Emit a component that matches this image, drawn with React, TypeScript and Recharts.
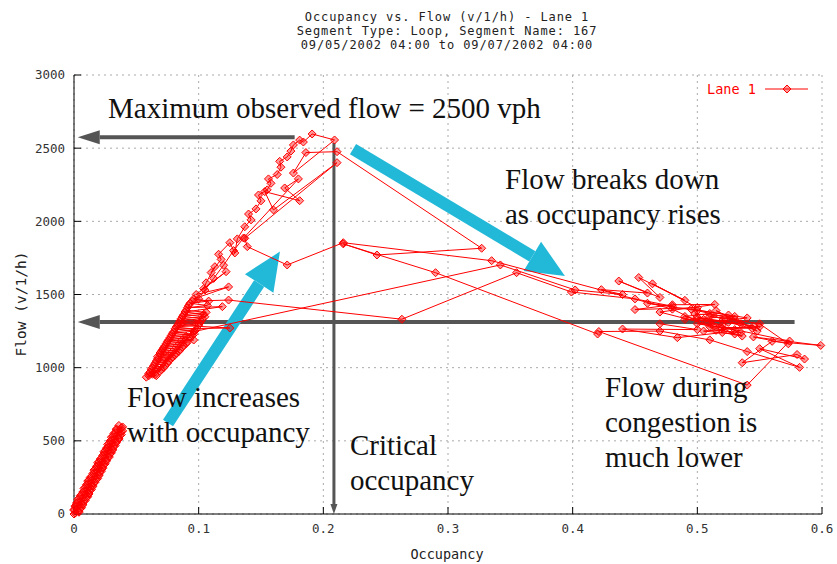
import { CartesianGrid, ComposedChart, ReferenceLine, Scatter, XAxis, YAxis } from "recharts";

const TITLE = [
  "Occupancy vs. Flow (v/1/h) - Lane 1",
  "Segment Type: Loop, Segment Name: 167",
  "09/05/2002 04:00 to 09/07/2002 04:00",
];
const X_TICKS = [0, 0.1, 0.2, 0.3, 0.4, 0.5, 0.6];
const Y_TICKS = [0, 500, 1000, 1500, 2000, 2500, 3000];

// [occupancy, flow] pairs in time order
const nightBand = [
  [0.0, 0], [0.004, 12], [0.0, 25], [0.005, 37], [0.001, 50], [0.007, 62], [0.002, 75],
  [0.008, 87], [0.003, 100], [0.01, 112], [0.005, 125], [0.012, 137], [0.007, 150],
  [0.013, 162], [0.008, 175], [0.015, 187], [0.01, 200], [0.016, 212], [0.011, 225],
  [0.018, 237], [0.013, 250], [0.02, 262], [0.015, 275], [0.021, 287], [0.016, 300],
  [0.023, 312], [0.018, 325], [0.024, 337], [0.019, 350], [0.026, 362], [0.021, 375],
  [0.028, 387], [0.023, 400], [0.029, 412], [0.024, 425], [0.031, 437], [0.026, 450],
  [0.032, 462], [0.027, 475], [0.034, 487], [0.029, 500], [0.036, 512], [0.03, 525],
  [0.037, 537], [0.032, 550], [0.038, 562], [0.034, 575], [0.038, 590], [0.036, 605],
];

const nightReturn = [
  [0.039, 595], [0.034, 581], [0.039, 568], [0.033, 556], [0.038, 543], [0.031, 531],
  [0.036, 518], [0.03, 506], [0.034, 493], [0.028, 481], [0.033, 468], [0.027, 456],
  [0.031, 443], [0.025, 431], [0.03, 418], [0.024, 406], [0.028, 393], [0.022, 381],
  [0.026, 368], [0.02, 356], [0.025, 343], [0.019, 331], [0.023, 318], [0.017, 306],
  [0.022, 293], [0.016, 281], [0.02, 268], [0.014, 256], [0.019, 243], [0.012, 231],
  [0.017, 218], [0.011, 206], [0.015, 193], [0.009, 181], [0.014, 168], [0.008, 156],
  [0.012, 143], [0.006, 131], [0.011, 118], [0.004, 106], [0.009, 93], [0.003, 81],
  [0.007, 68], [0.001, 56], [0.006, 43], [0.0, 31], [0.004, 18], [0.001, 6],
];

const dayOneRise = [
  [0.058, 935], [0.066, 945], [0.06, 960], [0.069, 975], [0.062, 990], [0.072, 1000],
  [0.064, 1015], [0.075, 1030], [0.066, 1045], [0.078, 1060], [0.067, 1075], [0.081, 1085],
  [0.069, 1100], [0.084, 1110], [0.071, 1125], [0.087, 1140], [0.073, 1150], [0.09, 1165],
  [0.075, 1180], [0.096, 1189], [0.077, 1205], [0.095, 1220], [0.079, 1235], [0.097, 1250],
  [0.081, 1265], [0.125, 1271], [0.083, 1290], [0.101, 1305], [0.085, 1320], [0.103, 1335],
  [0.087, 1350], [0.104, 1365], [0.089, 1380], [0.119, 1417], [0.091, 1410], [0.107, 1425],
  [0.093, 1440], [0.108, 1455], [0.096, 1470], [0.124, 1552], [0.098, 1500], [0.122, 1656],
  [0.104, 1540], [0.106, 1580], [0.113, 1690], [0.11, 1650], [0.118, 1740], [0.116, 1775],
  [0.125, 1854], [0.129, 1784], [0.131, 1880], [0.137, 1963], [0.142, 2010], [0.14, 2050],
  [0.146, 2085], [0.15, 2140], [0.148, 2180], [0.155, 2215], [0.158, 2260], [0.156, 2290],
  [0.163, 2320], [0.166, 2370], [0.165, 2410], [0.171, 2440], [0.174, 2480], [0.176, 2522],
  [0.181, 2555], [0.184, 2542], [0.191, 2597], [0.209, 2556], [0.176, 2330], [0.186, 2470],
  [0.211, 2476], [0.327, 1816], [0.243, 1770], [0.216, 1846], [0.29, 1649], [0.42, 1230],
];

const dayOneJam = [
  [0.47, 1300], [0.5, 1260], [0.44, 1264], [0.484, 1205], [0.52, 1240], [0.536, 1216],
  [0.51, 1280], [0.544, 1268], [0.52, 1320], [0.49, 1330], [0.53, 1350], [0.498, 1367],
  [0.505, 1330], [0.535, 1300], [0.515, 1390], [0.548, 1250], [0.525, 1360], [0.495, 1400],
  [0.54, 1340], [0.51, 1310], [0.53, 1230], [0.505, 1250], [0.55, 1280], [0.52, 1270],
  [0.47, 1380], [0.514, 1432], [0.48, 1430], [0.45, 1397], [0.5, 1410], [0.464, 1573],
  [0.49, 1460], [0.453, 1616], [0.47, 1480], [0.437, 1592], [0.46, 1510], [0.423, 1533],
  [0.44, 1500], [0.402, 1531], [0.342, 1702], [0.096, 1246], [0.09, 1215], [0.086, 1185],
  [0.083, 1150], [0.079, 1110], [0.075, 1075], [0.071, 1030], [0.067, 990], [0.063, 955],
];

const dayTwo = [
  [0.06, 945], [0.065, 952], [0.061, 970], [0.07, 985], [0.063, 1000], [0.073, 1012],
  [0.065, 1030], [0.076, 1045], [0.067, 1060], [0.079, 1072], [0.069, 1088], [0.082, 1098],
  [0.07, 1112], [0.085, 1122], [0.072, 1138], [0.088, 1150], [0.074, 1165], [0.091, 1175],
  [0.076, 1190], [0.093, 1205], [0.078, 1220], [0.096, 1228], [0.08, 1245], [0.098, 1262],
  [0.082, 1278], [0.1, 1290], [0.084, 1305], [0.102, 1318], [0.086, 1335], [0.105, 1348],
  [0.088, 1362], [0.106, 1378], [0.09, 1392], [0.092, 1425], [0.095, 1455], [0.124, 1462],
  [0.263, 1331], [0.355, 1649], [0.399, 1517], [0.45, 1470], [0.48, 1420], [0.46, 1440],
  [0.5, 1390], [0.53, 1330], [0.51, 1350], [0.55, 1300], [0.573, 1163], [0.545, 1210],
  [0.599, 1152], [0.56, 1180], [0.536, 1034], [0.58, 1090], [0.586, 1059], [0.55, 1130],
  [0.582, 1002], [0.54, 1110], [0.51, 1190], [0.47, 1250], [0.421, 1247], [0.54, 881],
  [0.574, 1182], [0.53, 1260], [0.5, 1300], [0.52, 1290], [0.49, 1350], [0.51, 1370],
  [0.525, 1310], [0.545, 1285], [0.5, 1345], [0.535, 1240], [0.515, 1255], [0.48, 1400],
  [0.335, 1731], [0.216, 1854], [0.171, 1702], [0.139, 1827], [0.137, 1884], [0.211, 2401],
  [0.16, 2078], [0.153, 2203], [0.181, 2141], [0.169, 2228], [0.18, 2290], [0.136, 1886],
  [0.128, 1800], [0.12, 1700], [0.112, 1610], [0.105, 1530], [0.1, 1470],
];

// annotation arrows, [from, to] in data units
const maxFlowArrow = [[0.177, 2575], [0.003, 2575]];
const jamFlowArrow = [[0.578, 1312], [0.003, 1312]];
const criticalArrow = [[0.2085, 2535], [0.2085, 0]];
const riseArrow = [[0.0754, 622], [0.1652, 1793]];
const dropArrow = [[0.2238, 2494], [0.3938, 1627]];

const toPoints = (rows: number[][]) => rows.map(([occ, flow]) => ({ occ, flow }));
const seg = (a: number[][]) => [{ x: a[0][0], y: a[0][1] }, { x: a[1][0], y: a[1][1] }];

const RED = "#ff0000";
const GRAY = "#555555";
const CYAN = "#22b8d8";
const MONO = "'DejaVu Sans Mono', monospace";
const SERIF = "'Liberation Serif', 'Times New Roman', serif";

function arrow(color: string, width: number, headLen: number, headWidth: number) {
  return (p: any) => {
    const { x1, y1, x2, y2 } = p;
    const len = Math.hypot(x2 - x1, y2 - y1) || 1;
    const ux = (x2 - x1) / len;
    const uy = (y2 - y1) / len;
    const bx = x2 - ux * headLen;
    const by = y2 - uy * headLen;
    const nx = -uy * headWidth / 2;
    const ny = ux * headWidth / 2;
    return (
      <g>
        <line x1={x1} y1={y1} x2={bx} y2={by} stroke={color} strokeWidth={width} />
        <polygon points={`${x2},${y2} ${bx + nx},${by + ny} ${bx - nx},${by - ny}`} fill={color} />
      </g>
    );
  };
}

function Diamond(p: any) {
  const { cx, cy } = p;
  const r = 4;
  return (
    <polygon
      points={`${cx},${cy - r} ${cx + r},${cy} ${cx},${cy + r} ${cx - r},${cy}`}
      fill="rgba(255,0,0,0.4)"
      stroke={RED}
      strokeWidth={1}
    />
  );
}

const series = [nightBand, nightReturn, dayOneRise, dayOneJam, dayTwo];

export default function App() {
  return (
    <div style={{ position: "absolute", left: 0, top: 0, width: 837, height: 564, background: "#fff" }}>
      <ComposedChart width={837} height={564} margin={{ top: 75, right: 15, bottom: 20, left: 14 }}>
        <CartesianGrid stroke="#aaa" strokeDasharray="2 4" />
        <XAxis
          dataKey="occ" type="number" domain={[0, 0.6]} ticks={X_TICKS} height={30}
          tickSize={-7} tickMargin={17} stroke="#000"
          tick={{ fontSize: 12.5, fontFamily: MONO, fill: "#333" }}
        />
        <XAxis
          xAxisId="top" orientation="top" type="number" domain={[0, 0.6]} ticks={X_TICKS}
          height={0} tickSize={-7} tickFormatter={() => ""} stroke="#000"
        />
        <YAxis
          dataKey="flow" type="number" domain={[0, 3000]} ticks={Y_TICKS} width={60}
          tickSize={-7} tickMargin={16} stroke="#000"
          tick={{ fontSize: 12.5, fontFamily: MONO, fill: "#333" }}
        />
        <YAxis
          yAxisId="right" orientation="right" type="number" domain={[0, 3000]} ticks={Y_TICKS}
          width={0} tickSize={-7} tickFormatter={() => ""} stroke="#000"
        />
        {series.map((s, i) => (
          <Scatter
            key={i}
            data={toPoints(s)}
            line={{ stroke: RED, strokeWidth: 1 }}
            lineType="joint"
            shape={Diamond}
            isAnimationActive={false}
          />
        ))}
        <ReferenceLine segment={seg(maxFlowArrow)} shape={arrow(GRAY, 4, 22, 14)} />
        <ReferenceLine segment={seg(jamFlowArrow)} shape={arrow(GRAY, 4, 22, 14)} />
        <ReferenceLine segment={seg(criticalArrow)} shape={arrow(GRAY, 3, 10, 7)} />
        <ReferenceLine segment={seg(riseArrow)} shape={arrow(CYAN, 12, 38, 34)} />
        <ReferenceLine segment={seg(dropArrow)} shape={arrow(CYAN, 12, 38, 34)} />
      </ComposedChart>

      <svg width={837} height={564} style={{ position: "absolute", left: 0, top: 0, pointerEvents: "none" }}>
        {TITLE.map((t, i) => (
          <text
            key={t} x={447} y={21 + i * 14} textAnchor="middle" fontFamily={MONO}
            fontSize={12} letterSpacing={0.9} fill="#222"
          >
            {t}
          </text>
        ))}
        <text x={447} y={559} textAnchor="middle" fontFamily={MONO} fontSize={13.5} fill="#222">Occupancy</text>
        <text
          x={26} y={304} textAnchor="middle" fontFamily={MONO} fontSize={14.5} fill="#222"
          transform="rotate(-90 26 304)"
        >
          Flow (v/1/h)
        </text>

        <text x={707} y={94} fontFamily={MONO} fontSize={13.5} fill={RED}>Lane 1</text>
        <line x1={765} y1={89} x2={808} y2={89} stroke={RED} strokeWidth={1} />
        <Diamond cx={787} cy={89} />

        <g fontFamily={SERIF} fontSize={29} fill="#111">
          <text x={108} y={118}>Maximum observed flow = 2500 vph</text>
          <text x={505} y={189}>Flow breaks down</text>
          <text x={505} y={224}>as occupancy rises</text>
          <text x={127} y={407}>Flow increases</text>
          <text x={127} y={442}>with occupancy</text>
          <text x={350} y={455}>Critical</text>
          <text x={350} y={490}>occupancy</text>
          <text x={605} y={397}>Flow during</text>
          <text x={605} y={432}>congestion is</text>
          <text x={605} y={467}>much lower</text>
        </g>
      </svg>
    </div>
  );
}
